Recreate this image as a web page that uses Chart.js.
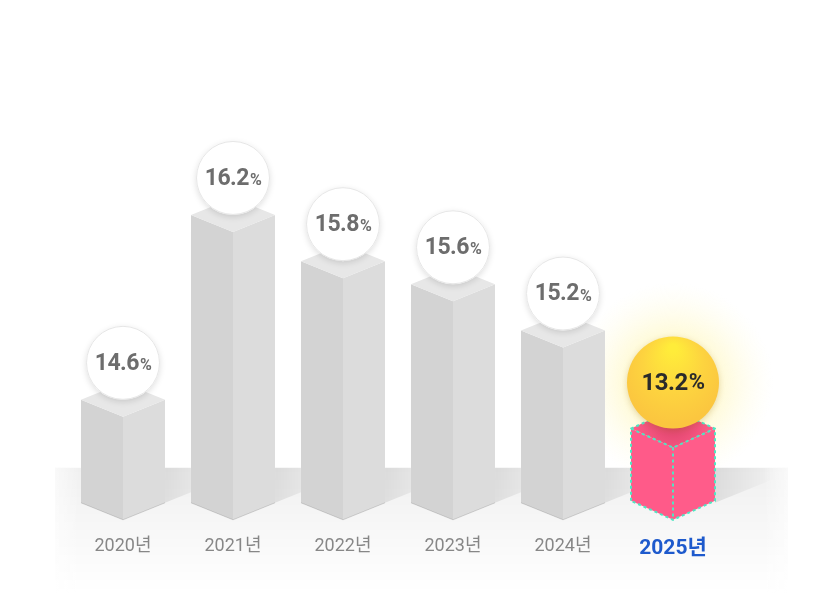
<!DOCTYPE html>
<html>
<head>
<meta charset="utf-8">
<script src="https://cdn.jsdelivr.net/npm/chart.js@4.4.1/dist/chart.umd.min.js"></script>
<style>
  html, body { margin: 0; padding: 0; background: #ffffff; }
  #wrap { width: 839px; height: 614px; }
</style>
</head>
<body>
<div id="wrap"><canvas id="grafico" width="839" height="614"></canvas></div>
<script>
const anios = ['2020년', '2021년', '2022년', '2023년', '2024년', '2025년'];
const tasas = [14.6, 16.2, 15.8, 15.6, 15.2, 13.2];
const destacado = 5; // 2025

// escala con corte: por debajo de "breakAt" los valores se comprimen hacia cero
class EscalaCortada extends Chart.LinearScale {
    static id = 'cortada';
    static defaults = Chart.LinearScale.defaults;
    getPixelForValue(value) {
        const b = this.options.breakAt;
        const v = value < b ? this.min + (b - this.min) * value / b : value;
        return super.getPixelForValue(v);
    }
    getBasePixel() {
        return this.bottom;
    }
}
Chart.register(EscalaCortada);

const PROF = 17; // profundidad isometrica

const cajas3d = {
    id: 'cajas3d',
    beforeDatasetsDraw(chart) {
        const { ctx, chartArea } = chart;
        const meta = chart.getDatasetMeta(0);
        const piso = chartArea.bottom - 52;
        const izq = chartArea.left - 13, der = chartArea.right + 60;
        ctx.save();

        // piso
        const gPiso = ctx.createLinearGradient(0, piso, 0, piso + 125);
        gPiso.addColorStop(0, 'rgba(0,0,0,0.06)');
        gPiso.addColorStop(0.6, 'rgba(0,0,0,0.025)');
        gPiso.addColorStop(1, 'rgba(0,0,0,0)');
        ctx.fillStyle = gPiso;
        ctx.fillRect(izq, piso, der - izq, 125);
        // bordes laterales suaves
        const gL = ctx.createLinearGradient(izq, 0, izq + 25, 0);
        gL.addColorStop(0, 'rgba(255,255,255,0.6)');
        gL.addColorStop(1, 'rgba(255,255,255,0)');
        ctx.fillStyle = gL;
        ctx.fillRect(izq, piso, 25, 125);
        const gR = ctx.createLinearGradient(der - 25, 0, der, 0);
        gR.addColorStop(0, 'rgba(255,255,255,0)');
        gR.addColorStop(1, 'rgba(255,255,255,0.6)');
        ctx.fillStyle = gR;
        ctx.fillRect(der - 25, piso, 25, 125);

        // resplandor amarillo
        const bar = meta.data[destacado];
        const cy = bar.y - 65;
        const gBrillo = ctx.createRadialGradient(bar.x, cy, 20, bar.x, cy, 100);
        gBrillo.addColorStop(0, 'rgba(255,240,120,0.55)');
        gBrillo.addColorStop(0.5, 'rgba(255,245,170,0.3)');
        gBrillo.addColorStop(1, 'rgba(255,250,210,0)');
        ctx.fillStyle = gBrillo;
        ctx.fillRect(bar.x - 110, cy - 110, 220, 220);

        // sombras proyectadas
        meta.data.forEach(el => {
            const hw = el.width / 2;
            const x0 = el.x + hw, y0 = el.base - PROF;
            const largo = 60;
            const g = ctx.createLinearGradient(x0, 0, x0 + largo, 0);
            g.addColorStop(0, 'rgba(0,0,0,0.09)');
            g.addColorStop(1, 'rgba(0,0,0,0)');
            ctx.fillStyle = g;
            ctx.beginPath();
            ctx.moveTo(x0, y0);
            ctx.lineTo(x0 + largo, y0 - largo * PROF / hw);
            ctx.lineTo(x0 + largo, piso);
            ctx.lineTo(x0, piso);
            ctx.closePath();
            ctx.fill();
        });
        ctx.restore();
    },
    afterDatasetsDraw(chart) {
        const { ctx } = chart;
        const meta = chart.getDatasetMeta(0);
        ctx.save();
        meta.data.forEach((el, i) => {
            const hw = el.width / 2;
            const cx = el.x, top = el.y, base = el.base;
            const esDest = i === destacado;
            const d = esDest ? 19 : PROF;
            const cIzq = esDest ? '#ff5a89' : '#d3d3d3';
            const cDer = esDest ? '#ff5c8a' : '#dcdcdc';
            const cSup = esDest ? '#ff5d88' : '#e7e7e7';

            // cara izquierda
            ctx.fillStyle = cIzq;
            ctx.beginPath();
            ctx.moveTo(cx - hw, top - d);
            ctx.lineTo(cx, top);
            ctx.lineTo(cx, base);
            ctx.lineTo(cx - hw, base - d);
            ctx.closePath();
            ctx.fill();
            // cara derecha
            ctx.fillStyle = cDer;
            ctx.beginPath();
            ctx.moveTo(cx, top);
            ctx.lineTo(cx + hw, top - d);
            ctx.lineTo(cx + hw, base - d);
            ctx.lineTo(cx, base);
            ctx.closePath();
            ctx.fill();
            // cara superior
            ctx.fillStyle = cSup;
            ctx.beginPath();
            ctx.moveTo(cx - hw, top - d);
            ctx.lineTo(cx, top - 2 * d);
            ctx.lineTo(cx + hw, top - d);
            ctx.lineTo(cx, top);
            ctx.closePath();
            ctx.fill();

            if (esDest) {
                // sombra de la esfera sobre la tapa
                ctx.save();
                ctx.beginPath();
                ctx.moveTo(cx - hw, top - d);
                ctx.lineTo(cx, top - 2 * d);
                ctx.lineTo(cx + hw, top - d);
                ctx.lineTo(cx, top);
                ctx.closePath();
                ctx.clip();
                const gs = ctx.createRadialGradient(cx, top - d - 8, 5, cx, top - d - 8, 40);
                gs.addColorStop(0, 'rgba(160,20,60,0.35)');
                gs.addColorStop(1, 'rgba(160,20,60,0)');
                ctx.fillStyle = gs;
                ctx.fillRect(cx - hw, top - 2 * d, 2 * hw, 2 * d);
                ctx.restore();
                // aristas punteadas
                ctx.strokeStyle = '#4fe6c2';
                ctx.lineWidth = 2;
                ctx.setLineDash([3, 3]);
                ctx.beginPath();
                ctx.moveTo(cx - hw, base - d);
                ctx.lineTo(cx - hw, top - d);
                ctx.lineTo(cx, top - 2 * d);
                ctx.lineTo(cx + hw, top - d);
                ctx.lineTo(cx + hw, base - d);
                ctx.lineTo(cx, base);
                ctx.closePath();
                ctx.moveTo(cx - hw, top - d);
                ctx.lineTo(cx, top);
                ctx.lineTo(cx + hw, top - d);
                ctx.moveTo(cx, top);
                ctx.lineTo(cx, base);
                ctx.stroke();
                ctx.setLineDash([]);
            } else {
                ctx.strokeStyle = 'rgba(0,0,0,0.14)';
                ctx.lineWidth = 1;
                ctx.beginPath();
                ctx.moveTo(cx - hw, base - d);
                ctx.lineTo(cx, base);
                ctx.lineTo(cx + hw, base - d);
                ctx.stroke();
            }

            // circulo con el valor
            const r = esDest ? 46 : 37;
            const cy = esDest ? top - 65 : top - 54;
            ctx.save();
            ctx.shadowColor = esDest ? 'rgba(150,100,0,0.25)' : 'rgba(0,0,0,0.13)';
            ctx.shadowBlur = 6;
            ctx.shadowOffsetY = 2;
            if (esDest) {
                const gy = ctx.createRadialGradient(cx, cy - r * 0.75, 4, cx, cy - r * 0.2, r * 1.1);
                gy.addColorStop(0, '#ffec3a');
                gy.addColorStop(0.55, '#fdd43f');
                gy.addColorStop(1, '#fbc63f');
                ctx.fillStyle = gy;
            } else {
                ctx.fillStyle = '#ffffff';
            }
            ctx.beginPath();
            ctx.arc(cx, cy, r, 0, Math.PI * 2);
            ctx.fill();
            ctx.restore();
            if (!esDest) {
                ctx.strokeStyle = '#e6e6e6';
                ctx.lineWidth = 1;
                ctx.beginPath();
                ctx.arc(cx, cy, r - 0.5, 0, Math.PI * 2);
                ctx.stroke();
            }

            const num = tasas[i].toFixed(1);
            ctx.textBaseline = 'middle';
            ctx.textAlign = 'left';
            ctx.fillStyle = esDest ? '#2b2b2b' : '#6d6d6d';
            const fNum = esDest ? 'bold 24px Roboto, "Noto Sans", sans-serif' : 'bold 23px Roboto, "Noto Sans", sans-serif';
            const fPct = esDest ? 'bold 22px Roboto, "Noto Sans", sans-serif' : 'bold 16px Roboto, "Noto Sans", sans-serif';
            ctx.letterSpacing = '-0.5px';
            ctx.font = fNum;
            const wNum = ctx.measureText(num).width;
            ctx.font = fPct;
            const wPct = ctx.measureText('%').width;
            const x0 = cx - (wNum + wPct + 1) / 2;
            ctx.font = fNum;
            ctx.fillText(num, x0, cy + 1);
            ctx.font = fPct;
            ctx.fillText('%', x0 + wNum + 1, cy + (esDest ? 1 : 3));
            ctx.letterSpacing = '0px';
        });
        ctx.restore();
    }
};

new Chart(document.getElementById('grafico'), {
    type: 'bar',
    data: {
        labels: anios,
        datasets: [{
            label: '비율',
            data: tasas,
            backgroundColor: 'rgba(0,0,0,0)',
            borderWidth: 0,
            barPercentage: 0.764,
            categoryPercentage: 1
        }]
    },
    options: {
        responsive: false,
        animation: false,
        devicePixelRatio: 1,
        layout: { padding: { left: 68, right: 111, top: 60, bottom: 37 } },
        plugins: {
            legend: { display: false },
            tooltip: { enabled: false }
        },
        scales: {
            x: {
                grid: { display: false, drawTicks: false },
                border: { display: false },
                ticks: {
                    padding: 16,
                    color: ctx => ctx.index === destacado ? '#1f5cd1' : '#8a8a8a',
                    font: ctx => ctx.index === destacado
                        ? { family: 'Roboto, "Noto Sans CJK KR", sans-serif', size: 21, weight: 'bold' }
                        : { family: 'Roboto, "Noto Sans CJK KR", sans-serif', size: 18 }
                }
            },
            y: {
                type: 'cortada',
                display: false,
                min: 13.709,
                max: 17.688,
                breakAt: 14.39
            }
        }
    },
    plugins: [cajas3d]
});
</script>
</body>
</html>
